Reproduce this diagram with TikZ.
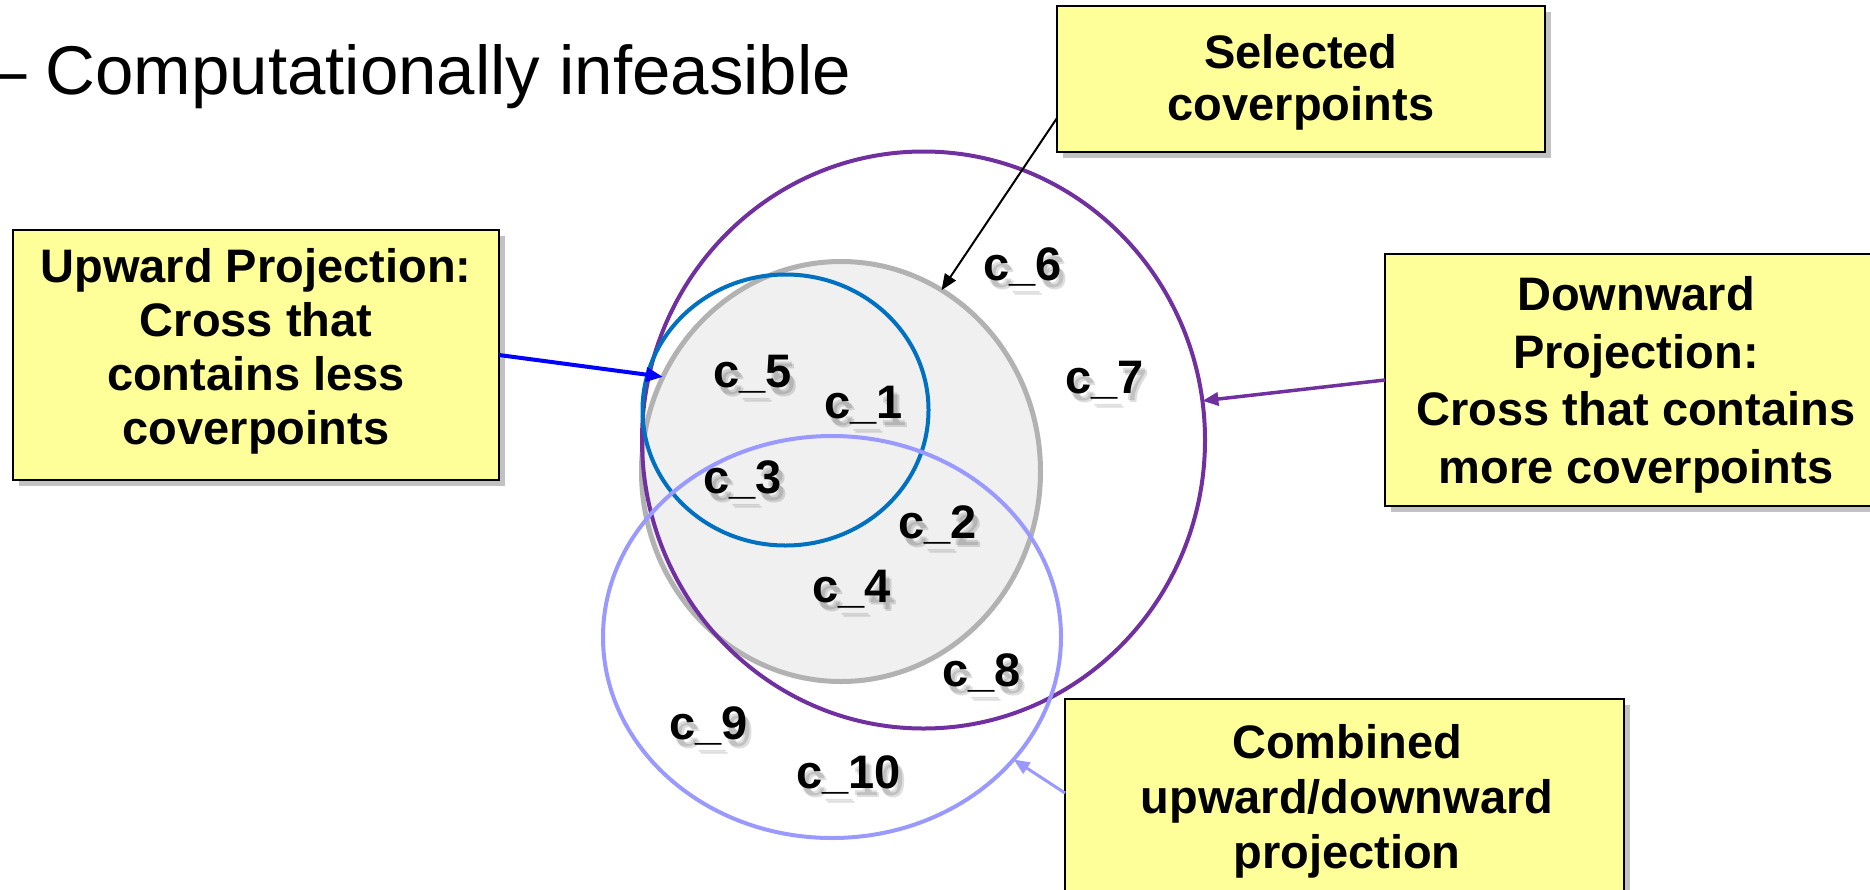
\documentclass[tikz,border=0pt]{standalone}
\usepackage{fontspec}
\setmainfont{Liberation Sans}
\usetikzlibrary{shapes.geometric,arrows.meta,shadows}
\definecolor{ppurple}{HTML}{7030A0}
\definecolor{cblue}{HTML}{0070C0}
\definecolor{lpurple}{HTML}{9999FF}
\definecolor{gline}{HTML}{B2B2B2}
\definecolor{gfill}{HTML}{F0F0F0}
\definecolor{ayellow}{HTML}{FFFF99}
\definecolor{pblue}{HTML}{0000FF}
\newcommand\cpt[3]{%
  \node[lblsh, xshift=4pt, yshift=-7pt] at (#2) {#3};
  \node[lblsh, xshift=6pt, yshift=-9pt] at (#2) {#3};
  \node[lbl] (#1) at (#2) {#3};}
\begin{document}
\begin{tikzpicture}[x=1pt,y=-1pt,
  ring/.style={ellipse, inner sep=0pt, outer sep=0pt, line width=4pt},
  notebox/.style={rectangle, draw=black, line width=2pt, fill=ayellow, inner sep=0pt, outer sep=0pt,
    drop shadow={shadow xshift=6pt, shadow yshift=-6pt, fill=black!60, opacity=0.4}},
  notetext/.style={align=center, inner sep=0pt},
  lbl/.style={font=\bfseries\fontsize{47}{54}\selectfont, inner sep=0pt, anchor=base west},
  lblsh/.style={lbl, text=black, text opacity=0.13},
  tip/.style={-{Triangle[length=16pt,width=13pt]}}
]
\useasboundingbox (0,0) rectangle (1870,889);

% title line
\node[font=\fontsize{69}{80}\selectfont, anchor=base west, inner sep=0pt] (title) at (-12,94) {– Computationally infeasible};

% circles
\node[ring, draw=gline, fill=gfill, line width=5pt, minimum width=399pt, minimum height=420pt] (sc) at (841,471.5) {};
\node[ring, draw=ppurple, minimum width=563pt, minimum height=577pt] (dp) at (923.5,440) {};
\node[ring, draw=cblue, minimum width=286pt, minimum height=271pt] (upc) at (785.5,410) {};
\node[ring, draw=lpurple, minimum width=458pt, minimum height=402pt] (cp) at (832,637) {};

% coverpoint labels
\cpt{c5}{713,387}{c\_5}
\cpt{c1}{824,418}{c\_1}
\cpt{c3}{703,493}{c\_3}
\cpt{c2}{898,538}{c\_2}
\cpt{c4}{812,602}{c\_4}
\cpt{c6}{983,280}{c\_6}
\cpt{c7}{1065,393}{c\_7}
\cpt{c8}{942,686}{c\_8}
\cpt{c9}{669,739}{c\_9}
\cpt{c10}{796,788}{c\_10}

% note boxes
\node[notebox, minimum width=488pt, minimum height=146pt] (sel) at (1301,79) {};
\node[notetext, font=\bfseries\fontsize{47}{52}\selectfont] (selt) at (1301,82) {Selected\\coverpoints};

\node[notebox, minimum width=486pt, minimum height=250pt] (up) at (256,355) {};
\node[notetext, font=\bfseries\fontsize{47}{54}\selectfont] (upt) at (256,351.6) {Upward Projection:\\Cross that\\contains less\\coverpoints};

\node[notebox, minimum width=502pt, minimum height=252pt] (down) at (1636,380) {};
\node[notetext, font=\bfseries\fontsize{47}{57.5}\selectfont] (downt) at (1636,384.6) {Downward\\Projection:\\Cross that contains\\more coverpoints};

\node[notebox, minimum width=559pt, minimum height=206pt] (comb) at (1344.5,802) {};
\node[notetext, font=\bfseries\fontsize{47}{55}\selectfont] (combt) at (1347,801) {Combined\\upward/downward\\projection};

% connectors
\draw[black, line width=2pt, tip] ([yshift=-39pt]sel.west) -- (sc.61);
\draw[pblue, line width=4pt, -{Triangle[length=17pt,width=14pt]}] (up.east) -- (sc.152);
\draw[ppurple, line width=3.5pt, tip] (down.west) -- (dp.8);
\draw[lpurple, line width=3pt, tip] ([yshift=9pt]comb.west) -- (cp.-34);
\end{tikzpicture}
\end{document}
